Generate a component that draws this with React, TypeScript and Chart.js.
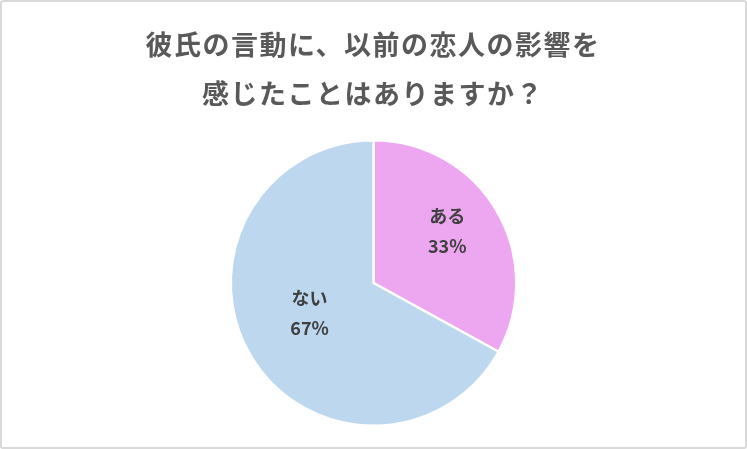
import React, { useRef, useEffect } from "react";
import Chart from "chart.js/auto";

const titleLines = ["彼氏の言動に、以前の恋人の影響を", "感じたことはありますか？"];
const categories = ["ある", "ない"];
const values = [33, 67];
const colors = ["#EDA6F0", "#BDD7EE"];

const FONT = '"Noto Sans CJK JP", "Noto Sans", sans-serif';

// タイトルとラベルを手で描く
const textPlugin = {
  id: "textPlugin",
  afterDraw(chart: any) {
    const ctx = chart.ctx as CanvasRenderingContext2D;
    ctx.save();
    ctx.fillStyle = "#595959";
    ctx.font = `bold 27px ${FONT}`;
    ctx.textAlign = "center";
    ctx.textBaseline = "middle";
    (ctx as any).letterSpacing = "1.5px";
    ctx.fillText(titleLines[0], 373, 45);
    ctx.fillText(titleLines[1], 373, 94);
    (ctx as any).letterSpacing = "0px";

    const meta = chart.getDatasetMeta(0);
    const total = values.reduce((a, b) => a + b, 0);
    ctx.fillStyle = "#404040";
    ctx.font = `bold 18px ${FONT}`;
    meta.data.forEach((arc: any, i: number) => {
      const { x, y, startAngle, endAngle, outerRadius } = arc.getProps(
        ["x", "y", "startAngle", "endAngle", "outerRadius"],
        true
      );
      const mid = (startAngle + endAngle) / 2;
      const r = outerRadius * (i === 0 ? 0.6 : 0.52);
      const cx = x + Math.cos(mid) * r;
      const cy = y + Math.sin(mid) * r - 8;
      const pct = Math.round((values[i] / total) * 100) + "%";
      ctx.fillText(categories[i], cx, cy - 15);
      ctx.fillText(pct, cx, cy + 15);
    });
    ctx.restore();
  },
};

const App: React.FC = () => {
  const canvasRef = useRef<HTMLCanvasElement>(null);
  const chartInstance = useRef<Chart | null>(null);

  useEffect(() => {
    if (!canvasRef.current) return;
    const ctx = canvasRef.current.getContext("2d");
    if (!ctx) return;
    if (chartInstance.current) chartInstance.current.destroy();

    chartInstance.current = new Chart(ctx, {
      type: "pie",
      data: {
        labels: categories,
        datasets: [
          {
            data: values,
            backgroundColor: colors,
            borderColor: "#ffffff",
            borderWidth: 2.5,
          },
        ],
      },
      options: {
        animation: false,
        responsive: true,
        maintainAspectRatio: false,
        layout: { padding: { top: 139, bottom: 22 } },
        plugins: {
          legend: { display: false },
          title: { display: false },
          tooltip: { enabled: false },
        },
      },
      plugins: [textPlugin],
    });

    return () => {
      if (chartInstance.current) {
        chartInstance.current.destroy();
        chartInstance.current = null;
      }
    };
  }, []);

  return (
    <div style={{ position: "absolute", left: 0, top: 0, width: 747, height: 449, background: "#fff" }}>
      <div
        style={{
          position: "absolute",
          inset: 0,
          border: "2px solid #d9d9d9",
          borderRadius: 3,
          boxSizing: "border-box",
        }}
      />
      <div style={{ position: "absolute", left: 0, top: 0, width: 747, height: 449 }}>
        <canvas ref={canvasRef}></canvas>
      </div>
    </div>
  );
};

export default App;
